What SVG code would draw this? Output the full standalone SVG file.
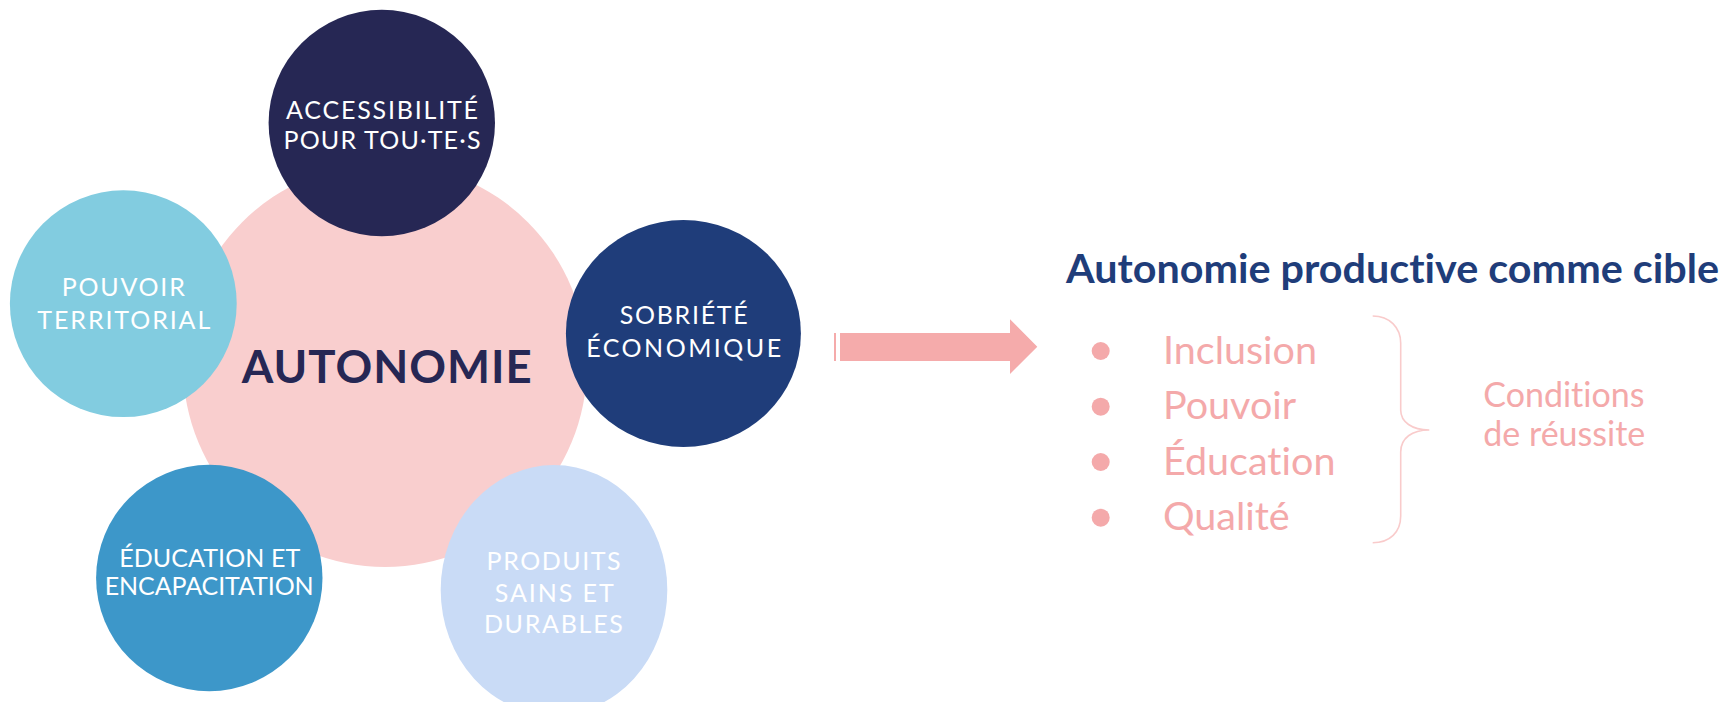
<svg xmlns="http://www.w3.org/2000/svg" width="1726" height="702" viewBox="0 0 1726 702">
<style>
text{font-variant-ligatures:none;font-feature-settings:"liga" 0,"clig" 0,"dlig" 0}
.lbl{font-family:Lato,"Liberation Sans",sans-serif;font-size:25px;fill:#ffffff;text-anchor:middle}
.main{font-family:Lato,"Liberation Sans",sans-serif;font-size:45.5px;font-weight:bold;fill:#262754;text-anchor:middle}
.title{font-family:Lato,"Liberation Sans",sans-serif;font-size:41px;font-weight:bold;fill:#1F3D7A}
.item{font-family:Lato,"Liberation Sans",sans-serif;font-size:39.5px;fill:#F4A9AA}
.cond{font-family:Lato,"Liberation Sans",sans-serif;font-size:34px;fill:#F4A9AA}
.dot{fill:#F4A9AA}
</style>
<rect x="0" y="0" width="1726" height="702" fill="#ffffff"/>
<g id="autonomie">
<circle cx="385" cy="365" r="202" fill="#F9CECE"/>
<text class="main" x="386.7" y="383.3" textLength="290" lengthAdjust="spacing">AUTONOMIE</text>
</g>
<g id="accessibilite">
<circle cx="381.8" cy="123" r="113.2" fill="#262754"/>
<text class="lbl" x="382" y="118.6" textLength="192" lengthAdjust="spacing">ACCESSIBILITÉ</text>
<text class="lbl" x="382" y="149" textLength="197" lengthAdjust="spacing">POUR TOU·TE·S</text>
</g>
<g id="pouvoir">
<circle cx="123.3" cy="303.7" r="113.4" fill="#82CCE0"/>
<text class="lbl" x="123.3" y="296.3" textLength="123" lengthAdjust="spacing">POUVOIR</text>
<text class="lbl" x="123.8" y="329" textLength="173" lengthAdjust="spacing">TERRITORIAL</text>
</g>
<g id="sobriete">
<ellipse cx="683.4" cy="333.5" rx="117.5" ry="113.5" fill="#1F3D7A"/>
<text class="lbl" x="683.7" y="324" textLength="128" lengthAdjust="spacing">SOBRIÉTÉ</text>
<text class="lbl" x="683.7" y="356.7" textLength="195" lengthAdjust="spacing">ÉCONOMIQUE</text>
</g>
<g id="education">
<circle cx="209.3" cy="578" r="113.2" fill="#3D97C9"/>
<text class="lbl" x="209.7" y="566.7" textLength="181" lengthAdjust="spacing">ÉDUCATION ET</text>
<text class="lbl" x="209.2" y="595" textLength="209" lengthAdjust="spacing">ENCAPACITATION</text>
</g>
<g id="produits">
<ellipse cx="554" cy="590" rx="113.3" ry="125" fill="#C9DBF6"/>
<text class="lbl" x="553.6" y="570" textLength="134" lengthAdjust="spacing">PRODUITS</text>
<text class="lbl" x="554.2" y="602.3" textLength="119" lengthAdjust="spacing">SAINS ET</text>
<text class="lbl" x="553.4" y="633.3" textLength="139" lengthAdjust="spacing">DURABLES</text>
</g>
<g id="connectors">
<rect x="834" y="333" width="2" height="28" fill="#F5ABAB"/>
<path d="M840,333 H1010 V319.3 L1037.3,346.7 L1010,374 V361 H840 Z" fill="#F5ABAB"/>
<path d="M1372.7,316 C1390,316 1400.7,328 1400.7,343 V410 C1400.7,422 1412,430 1429.3,430 C1412,430 1400.7,438 1400.7,452 V516 C1400.7,532 1390,542.7 1372.7,542.7" fill="none" stroke="#F9CBCB" stroke-width="1.6"/>
</g>
<g id="cible">
<text class="title" x="1066" y="283.3" textLength="653" lengthAdjust="spacingAndGlyphs">Autonomie productive comme cible</text>
</g>
<g id="liste">
<circle class="dot" cx="1100.7" cy="351" r="9"/>
<circle class="dot" cx="1100.7" cy="406.7" r="9"/>
<circle class="dot" cx="1100.7" cy="462" r="9"/>
<circle class="dot" cx="1100.7" cy="517.7" r="9"/>
<text class="item" x="1163" y="363.5">Inclusion</text>
<text class="item" x="1163" y="419">Pouvoir</text>
<text class="item" x="1163" y="474.5">Éducation</text>
<text class="item" x="1163" y="530">Qualité</text>
</g>
<g id="conditions">
<text class="cond" x="1483.3" y="407.3">Conditions</text>
<text class="cond" x="1483.3" y="446">de réussite</text>
</g>
</svg>
